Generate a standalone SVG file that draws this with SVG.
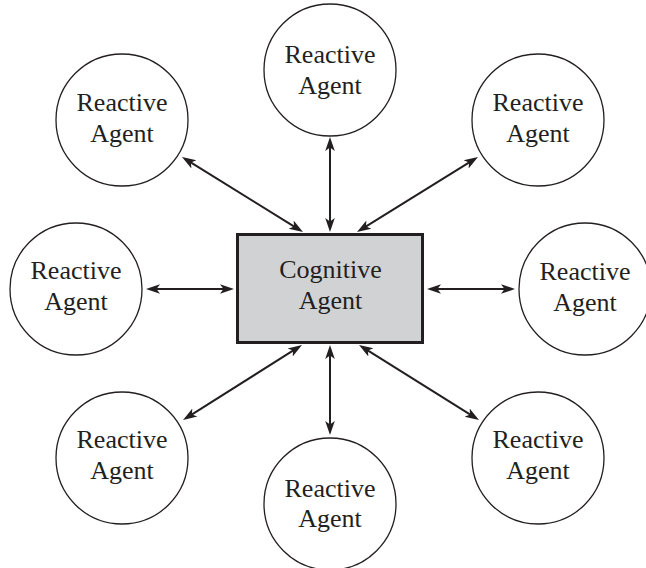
<svg xmlns="http://www.w3.org/2000/svg" width="646" height="568" viewBox="0 0 646 568">
  <style>
    .agent { fill: #ffffff; stroke: #231f20; stroke-width: 1.3; }
    .cog { fill: #d1d2d4; stroke: #231f20; stroke-width: 3; }
    .label { font-family: "Liberation Serif", "Times New Roman", serif; font-size: 26px; fill: #231f20; text-anchor: middle; }
    .link { stroke: #231f20; stroke-width: 2; fill: none; marker-start: url(#head); marker-end: url(#head); }
  </style>
  <defs>
    <marker id="head" markerUnits="userSpaceOnUse" markerWidth="16" markerHeight="12" viewBox="0 -6 16 12" refX="8" refY="0" orient="auto-start-reverse">
      <path d="M14,0 L0,-4.8 L3.5,0 L0,4.8 Z" fill="#231f20"/>
    </marker>
  </defs>

  <!-- two-way links between the cognitive agent and each reactive agent -->
  <g id="connectors">
    <line class="link" x1="330" y1="143" x2="330" y2="226"/>
    <line class="link" x1="187.1" y1="160.2" x2="297.9" y2="228.8"/>
    <line class="link" x1="472.9" y1="160.2" x2="362.1" y2="228.8"/>
    <line class="link" x1="152" y1="289" x2="228" y2="289"/>
    <line class="link" x1="433" y1="289" x2="509" y2="289"/>
    <line class="link" x1="188.1" y1="416.8" x2="296.9" y2="348.2"/>
    <line class="link" x1="330" y1="351" x2="330" y2="429"/>
    <line class="link" x1="473.9" y1="416.8" x2="364.1" y2="348.2"/>
  </g>

  <g id="cognitive-agent">
    <rect class="cog" x="237.5" y="234.5" width="185" height="108"/>
    <text class="label" x="330.5" y="278">Cognitive</text>
    <text class="label" x="330.5" y="309">Agent</text>
  </g>

  <g id="reactive-top">
    <circle class="agent" cx="330" cy="70" r="66"/>
    <text class="label" x="330" y="63">Reactive</text>
    <text class="label" x="330" y="94">Agent</text>
  </g>
  <g id="reactive-upper-left">
    <circle class="agent" cx="122" cy="120" r="66"/>
    <text class="label" x="122" y="111">Reactive</text>
    <text class="label" x="122" y="142">Agent</text>
  </g>
  <g id="reactive-upper-right">
    <circle class="agent" cx="538" cy="120" r="66"/>
    <text class="label" x="538" y="111">Reactive</text>
    <text class="label" x="538" y="142">Agent</text>
  </g>
  <g id="reactive-left">
    <circle class="agent" cx="76" cy="289" r="66"/>
    <text class="label" x="76" y="279">Reactive</text>
    <text class="label" x="76" y="310">Agent</text>
  </g>
  <g id="reactive-right">
    <circle class="agent" cx="585" cy="289" r="66"/>
    <text class="label" x="585" y="280">Reactive</text>
    <text class="label" x="585" y="311">Agent</text>
  </g>
  <g id="reactive-lower-left">
    <circle class="agent" cx="122" cy="458" r="66"/>
    <text class="label" x="122" y="448">Reactive</text>
    <text class="label" x="122" y="479">Agent</text>
  </g>
  <g id="reactive-lower-right">
    <circle class="agent" cx="538" cy="458" r="66"/>
    <text class="label" x="538" y="448">Reactive</text>
    <text class="label" x="538" y="479">Agent</text>
  </g>
  <g id="reactive-bottom">
    <circle class="agent" cx="330" cy="504" r="66"/>
    <text class="label" x="330" y="497">Reactive</text>
    <text class="label" x="330" y="527">Agent</text>
  </g>
</svg>
